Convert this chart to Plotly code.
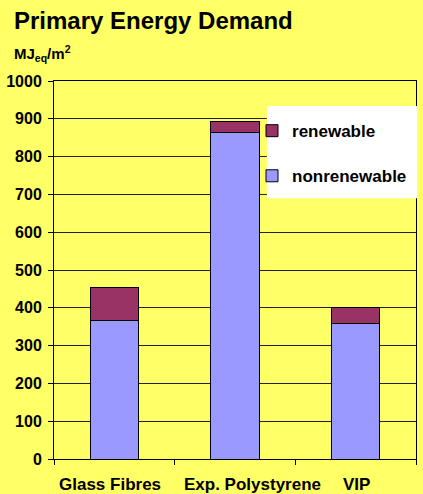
import plotly.graph_objects as go

categories = ["Glass Fibres", "Exp. Polystyrene", "VIP"]
nonrenewable = [366, 865, 358]
renewable = [89, 27, 44]
y_ticks = [0, 100, 200, 300, 400, 500, 600, 700, 800, 900, 1000]

BG = "#FFFF66"
FONT = "Liberation Sans, Arial, sans-serif"
label_shift = [-4, 17, 1]

fig = go.Figure()
fig.add_trace(go.Bar(
    x=categories, y=nonrenewable, name="nonrenewable",
    marker=dict(color="#9999FF", line=dict(color="black", width=1)),
    legendgroup="a", legendrank=2,
))
fig.add_trace(go.Bar(
    x=categories, y=renewable, name="renewable",
    marker=dict(color="#993366", line=dict(color="black", width=1)),
    legendgroup="b", legendrank=1,
))

annotations = [
    dict(text="<b>Primary Energy Demand</b>", xref="paper", yref="paper",
         x=-0.116, y=1.161, xanchor="left", yanchor="middle", showarrow=False,
         font=dict(family=FONT, size=24, color="black")),
    dict(text="<b>MJ<sub>eq</sub>/m<sup>2</sup></b>", xref="paper", yref="paper",
         x=-0.116, y=1.072, xanchor="left", yanchor="middle", showarrow=False,
         font=dict(family=FONT, size=15, color="black")),
]
for cat, dx in zip(categories, label_shift):
    annotations.append(dict(
        text=f"<b>{cat}</b>", x=cat, xref="x", y=0, yref="paper",
        xanchor="center", yanchor="middle", yshift=-25, xshift=dx,
        showarrow=False, font=dict(family=FONT, size=17, color="black"),
    ))

fig.update_layout(
    width=423, height=494,
    barmode="stack", bargap=0.6,
    paper_bgcolor=BG, plot_bgcolor=BG,
    margin=dict(l=54, r=7, t=81, b=35),
    font=dict(family=FONT, size=15, color="black"),
    showlegend=True,
    legend=dict(
        x=0.547, y=0.915, xanchor="left", yanchor="top",
        bgcolor="rgba(0,0,0,0)", borderwidth=0,
        traceorder="grouped", tracegroupgap=20,
        font=dict(family=FONT, size=17, color="black", weight="bold"),
        itemwidth=30,
    ),
    shapes=[
        dict(type="rect", xref="paper", yref="paper",
             x0=0.588, x1=1.003, y0=0.690, y1=0.934,
             fillcolor="white", line=dict(width=0), layer="above"),
    ],
    annotations=annotations,
)
fig.update_yaxes(
    range=[0, 1000], tickvals=y_ticks,
    showgrid=True, gridcolor="#222222", gridwidth=1,
    showline=True, linecolor="black", linewidth=1, mirror=True,
    ticks="outside", ticklen=5, tickcolor="black", ticklabelstandoff=3,
    tickfont=dict(family=FONT, size=16, color="black", weight="bold"),
    zeroline=False, automargin=False,
)
fig.update_xaxes(
    showline=True, linecolor="black", linewidth=1, mirror=True,
    ticks="outside", ticklen=5, tickcolor="black", tickson="boundaries",
    showticklabels=False, automargin=False,
)

fig.write_html(
    "out.html",
    config={"displayModeBar": False},
    post_script="document.body.style.margin='0';document.body.style.overflow='hidden';",
)
